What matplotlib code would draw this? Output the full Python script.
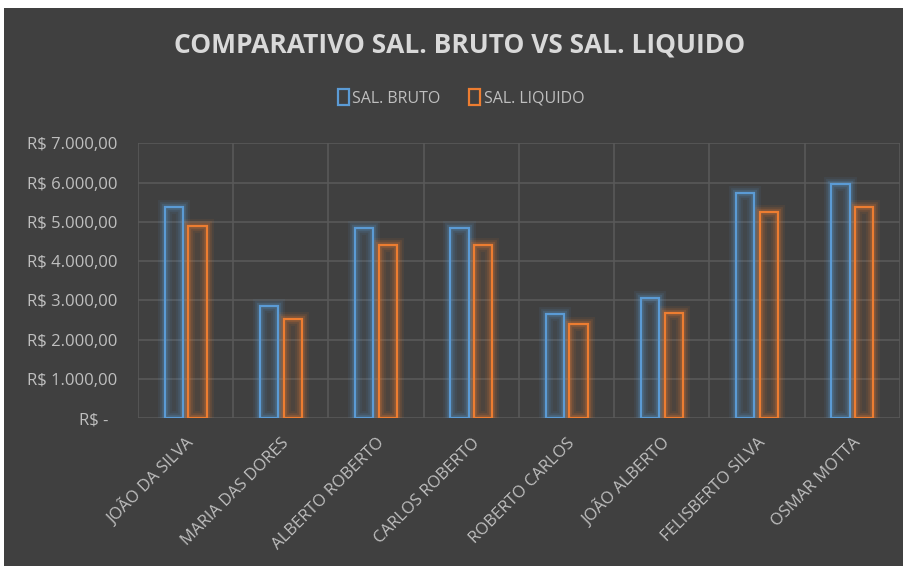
import numpy as np
import matplotlib.pyplot as plt
from matplotlib.patches import Rectangle
from matplotlib.ticker import FuncFormatter

nomes = ["JOÃO DA SILVA", "MARIA DAS DORES", "ALBERTO ROBERTO", "CARLOS ROBERTO",
         "ROBERTO CARLOS", "JOÃO ALBERTO", "FELISBERTO SILVA", "OSMAR MOTTA"]
sal_bruto = [5390, 2870, 4850, 4850, 2650, 3050, 5730, 5960]
sal_liquido = [4900, 2520, 4400, 4400, 2390, 2690, 5240, 5370]
y_ticks = [0, 1000, 2000, 3000, 4000, 5000, 6000, 7000]

BG = '#404040'
GRID = '#595959'
TXT = '#bfbfbf'
AZUL = '#5b9bd5'
LARANJA = '#ed7d31'

plt.rcParams['font.family'] = ['Open Sans', 'DejaVu Sans']

fig = plt.figure(figsize=(9.04, 5.66), dpi=100, facecolor='white')
fig.patches.append(Rectangle((4 / 904, 0), 1, 1 - 8 / 566, transform=fig.transFigure,
                             facecolor=BG, edgecolor='none', zorder=-10))
ax = fig.add_axes([138 / 904, 1 - 418.3 / 566, (900 - 138) / 904, (418.3 - 143.3) / 566])
ax.set_facecolor(BG)

x = np.arange(len(nomes))
w = 0.19
off = 0.125


def glow_bars(xs, vals, color, label):
    # soft halo, then the crisp outline on top
    for lw, a in [(10, 0.08), (7, 0.12), (4.5, 0.18)]:
        ax.bar(xs, vals, width=w, facecolor='none', edgecolor=color, linewidth=lw,
               alpha=a, zorder=2)
    ax.bar(xs, vals, width=w, facecolor=color, alpha=0.08, edgecolor='none', zorder=2)
    ax.bar(xs, vals, width=w, facecolor='none', edgecolor=color, linewidth=1.6,
           label=label, zorder=3)


glow_bars(x - off, sal_bruto, AZUL, "SAL. BRUTO")
glow_bars(x + off, sal_liquido, LARANJA, "SAL. LIQUIDO")

ax.set_xlim(-0.5, len(nomes) - 0.5)
ax.set_ylim(0, 7000)
ax.set_yticks(y_ticks)


def fmt(v, pos):
    if v == 0:
        return "R$ -  "
    s = f"{v:,.2f}".replace(",", "X").replace(".", ",").replace("X", ".")
    return "R$ " + s


ax.yaxis.set_major_formatter(FuncFormatter(fmt))
ax.set_xticks(np.arange(len(nomes) + 1) - 0.5, minor=True)
ax.set_xticks(x)
ax.set_xticklabels(nomes, rotation=45, ha='right', rotation_mode='anchor')
ax.grid(True, which='major', axis='y', color=GRID, linewidth=1.2)
ax.grid(True, which='minor', axis='x', color=GRID, linewidth=1.2)
ax.set_axisbelow(True)
ax.tick_params(which='both', length=0, colors=TXT, labelsize=12)
ax.tick_params(axis='y', pad=15)
ax.tick_params(axis='x', pad=12)
for s in ax.spines.values():
    s.set_visible(False)

fig.text(0.508, 1 - 45 / 566, "COMPARATIVO SAL. BRUTO VS SAL. LIQUIDO", ha='center',
         va='center', color='#d9d9d9', fontsize=19, fontweight='bold')

leg = ax.legend(loc='center', bbox_to_anchor=(0.51, 1 - 98 / 566),
                bbox_transform=fig.transFigure, ncol=2, frameon=False,
                fontsize=11.5, handlelength=0.7, handleheight=1.1,
                handletextpad=0.2, columnspacing=1.8)
for t in leg.get_texts():
    t.set_color(TXT)

fig.savefig("out.png", dpi=100, facecolor=fig.get_facecolor())
